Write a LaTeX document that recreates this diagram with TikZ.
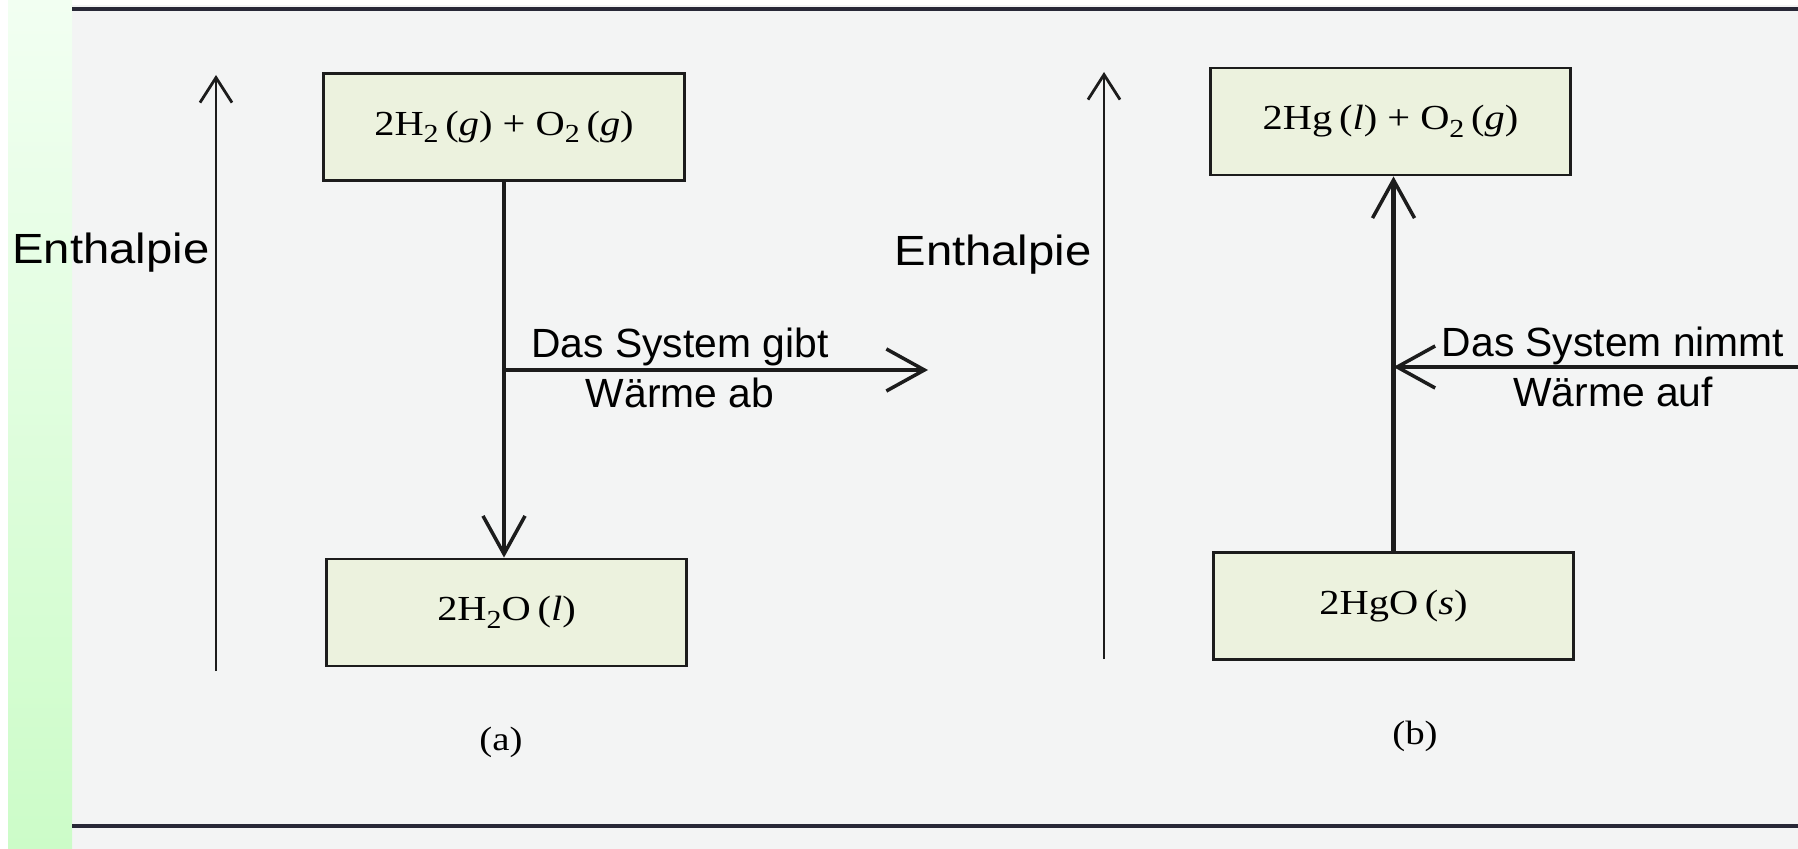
\documentclass[tikz,border=0pt]{standalone}
\usepackage{fontspec}
\usepackage{graphicx}
\setmainfont{Liberation Serif}
\newfontfamily\labelfont{Liberation Sans}
\usetikzlibrary{arrows.meta}
\definecolor{pagebg}{RGB}{243,244,244}
\definecolor{boxfill}{RGB}{236,242,222}
\definecolor{inkc}{RGB}{28,28,28}
\definecolor{rulec}{RGB}{40,40,55}
\definecolor{greentop}{RGB}{242,255,242}
\definecolor{greenbot}{RGB}{204,252,200}
\tikzset{
  statebox/.style={draw=inkc, line width=0.8pt, fill=boxfill,
    minimum width=3.6cm, minimum height=1.07cm, inner sep=0pt,
    font=\fontsize{10}{11}\selectfont},
  thinarrow/.style={draw=inkc, line width=0.8pt,
    -{Straight Barb[length=0.25cm, width=0.32cm, line width=0.8pt]}},
  thickarrow/.style={draw=inkc, line width=1.4pt,
    -{Straight Barb[length=0.38cm, width=0.42cm, line width=1pt]}},
  axislabel/.style={font=\labelfont\fontsize{12}{14}\selectfont, inner sep=0pt},
  heatlabel/.style={font=\labelfont\fontsize{11.6}{14.2}\selectfont, align=center, inner sep=0pt},
  sublabel/.style={font=\fontsize{9.6}{11}\selectfont, inner sep=0pt},
  rule/.style={draw=rulec, line width=1.2pt}
}
\newcommand{\stretchx}[1]{\scalebox{1.15}[1]{#1}}
\newcommand{\stretchlab}[1]{\scalebox{1.12}[1]{#1}}
\newcommand{\chemsub}[1]{\raisebox{-0.45ex}{\fontsize{7.4}{8}\selectfont #1}}
\begin{document}
\begin{tikzpicture}[x=0.01cm, y=-0.01cm]
  \useasboundingbox (0,0) rectangle (1798,849);
  % page
  \fill[white] (0,0) rectangle (1798,849);
  \fill[pagebg] (72,5) rectangle (1798,849);
  \shade[top color=greentop, bottom color=greenbot] (8,0) rectangle (72,849);
  % rules
  \draw[rule] (72,9) -- (1798,9);
  \draw[rule] (72,826) -- (1798,826);

  % boxes
  \node[statebox] (b1) at (504,127) {\stretchx{2H\chemsub{2}\,(\textit{g}) + O\chemsub{2}\,(\textit{g})}};
  \node[statebox] (b2) at (506.5,612.5) {\stretchx{2H\chemsub{2}O\,(\textit{l})}};
  \node[statebox] (b3) at (1390.5,121.5) {\stretchx{2Hg\,(\textit{l}) + O\chemsub{2}\,(\textit{g})}};
  \node[statebox] (b4) at (1393.5,606) {\stretchx{2HgO\,(\textit{s})}};

  % enthalpy axes
  \coordinate (ea1) at (216,671);
  \coordinate (ea1t) at (216,75);
  \coordinate (ea2) at (1104,659);
  \coordinate (ea2t) at (1104,72);
  \draw[thinarrow] (ea1) -- (ea1t);
  \draw[thinarrow] (ea2) -- (ea2t);
  \node[axislabel] (en1) at (111,253) {\stretchlab{Enthalpie}};
  \node[axislabel] (en2) at (993,255) {\stretchlab{Enthalpie}};

  % (a): exothermic
  \draw[thickarrow] (b1.south) -- (b1.south |- b2.north);
  \coordinate (gibt) at (928,370);
  \draw[thickarrow] (b1.south |- gibt) -- (gibt);
  \node[heatlabel] (la) at (680,368) {Das System gibt\\Wärme ab};

  % (b): endothermic
  \draw[thickarrow] (b4.north) -- (b4.north |- b3.south);
  \coordinate (nimmt) at (1810,367);
  \draw[thickarrow] (nimmt) -- (b4.north |- nimmt);
  \node[heatlabel] (lb) at (1613,367) {Das System nimmt\\Wärme auf};

  % captions
  \node[sublabel] (ca) at (501,742) {\stretchx{(a)}};
  \node[sublabel] (cb) at (1415,736) {\stretchx{(b)}};
\end{tikzpicture}
\end{document}
